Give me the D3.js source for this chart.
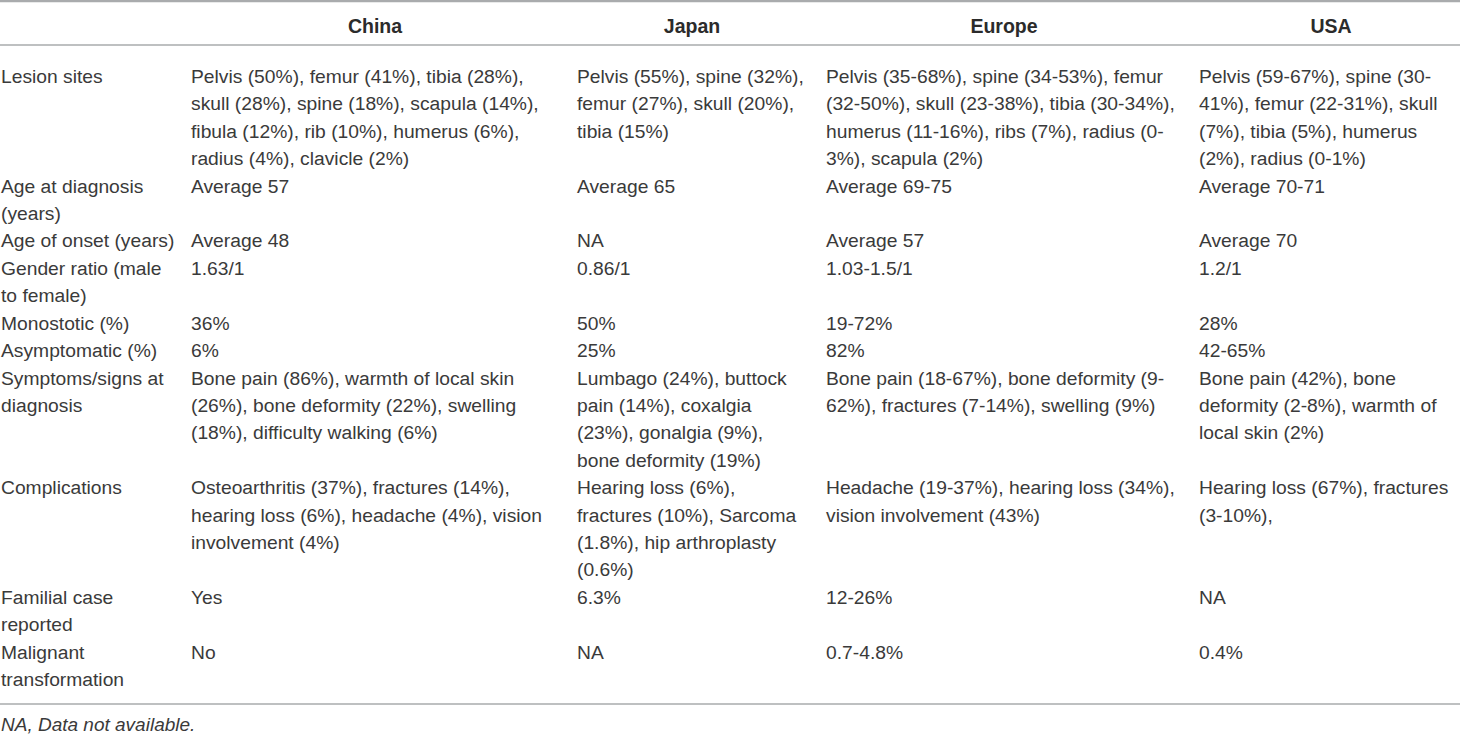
<!DOCTYPE html>
<html><head><meta charset="utf-8">
<script src="https://cdn.jsdelivr.net/npm/d3@7/dist/d3.min.js"></script>
<style>html,body{margin:0;padding:0;background:#fff;overflow:hidden}svg{display:block}text{font-family:"Liberation Sans",Arial,sans-serif;fill:#3a3a3a}</style>
</head><body><div id="c"></div>
<script>
const countries=["China","Japan","Europe","USA"];
const rowLabels=[["Lesion sites"],["Age at diagnosis","(years)"],["Age of onset (years)"],["Gender ratio (male","to female)"],["Monostotic (%)"],["Asymptomatic (%)"],["Symptoms/signs at","diagnosis"],["Complications"],["Familial case","reported"],["Malignant","transformation"]];
const chinaCells=[["Pelvis (50%), femur (41%), tibia (28%),","skull (28%), spine (18%), scapula (14%),","fibula (12%), rib (10%), humerus (6%),","radius (4%), clavicle (2%)"],["Average 57"],["Average 48"],["1.63/1"],["36%"],["6%"],["Bone pain (86%), warmth of local skin","(26%), bone deformity (22%), swelling","(18%), difficulty walking (6%)"],["Osteoarthritis (37%), fractures (14%),","hearing loss (6%), headache (4%), vision","involvement (4%)"],["Yes"],["No"]];
const japanCells=[["Pelvis (55%), spine (32%),","femur (27%), skull (20%),","tibia (15%)"],["Average 65"],["NA"],["0.86/1"],["50%"],["25%"],["Lumbago (24%), buttock","pain (14%), coxalgia","(23%), gonalgia (9%),","bone deformity (19%)"],["Hearing loss (6%),","fractures (10%), Sarcoma","(1.8%), hip arthroplasty","(0.6%)"],["6.3%"],["NA"]];
const europeCells=[["Pelvis (35-68%), spine (34-53%), femur","(32-50%), skull (23-38%), tibia (30-34%),","humerus (11-16%), ribs (7%), radius (0-","3%), scapula (2%)"],["Average 69-75"],["Average 57"],["1.03-1.5/1"],["19-72%"],["82%"],["Bone pain (18-67%), bone deformity (9-","62%), fractures (7-14%), swelling (9%)"],["Headache (19-37%), hearing loss (34%),","vision involvement (43%)"],["12-26%"],["0.7-4.8%"]];
const usaCells=[["Pelvis (59-67%), spine (30-","41%), femur (22-31%), skull","(7%), tibia (5%), humerus","(2%), radius (0-1%)"],["Average 70-71"],["Average 70"],["1.2/1"],["28%"],["42-65%"],["Bone pain (42%), bone","deformity (2-8%), warmth of","local skin (2%)"],["Hearing loss (67%), fractures","(3-10%),"],["NA"],["0.4%"]];
const footnote="NA, Data not available.";

const cells=[chinaCells,japanCells,europeCells,usaCells];
const W=1460,H=734,FS=19.25;
const svg=d3.select("#c").append("svg").attr("width",W).attr("height",H);
const lineY=d3.scaleLinear().domain([0,22]).range([83,686]);
const colX=d3.scaleOrdinal().domain(countries).range([191,577,826,1199]);
const headX=d3.scaleOrdinal().domain(countries).range([375,692,1004,1331]);

[[1,2.4],[45,1.6],[704,1.4]].forEach(([y,w])=>svg.append("line").attr("x1",0).attr("x2",W).attr("y1",y).attr("y2",y).attr("stroke","#a9abad").attr("stroke-width",w));

svg.selectAll(".h").data(countries).join("text").attr("class","h").attr("x",d=>headX(d)).attr("y",33).attr("text-anchor","middle").attr("font-size",19.5).attr("font-weight","bold").style("fill","#2b2b2b").text(d=>d);

let start=0;
rowLabels.forEach((lab,r)=>{
  const n=Math.max(lab.length,...cells.map(c=>c[r].length));
  const put=(lines,x)=>lines.forEach((t,i)=>svg.append("text").attr("x",x).attr("y",lineY(start+i)).attr("font-size",FS).text(t));
  put(lab,1);
  countries.forEach((c,j)=>put(cells[j][r],colX(c)));
  start+=n;
});
svg.append("text").attr("x",1).attr("y",731).attr("font-size",FS-0.25).attr("font-style","italic").text(footnote);
</script></body></html>
